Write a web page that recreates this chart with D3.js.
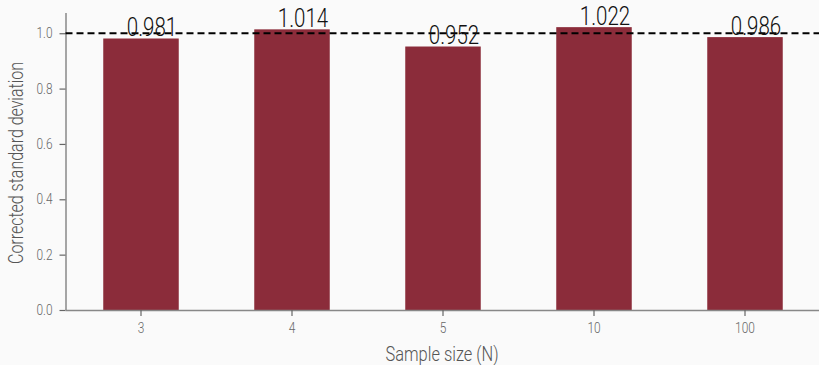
<!DOCTYPE html>
<html>
<head>
<meta charset="utf-8">
<script src="https://cdn.jsdelivr.net/npm/d3@7"></script>
<style>
  body { margin: 0; background: #fafafa; }
  svg { display: block; font-family: Roboto, sans-serif; font-weight: 300; }
</style>
</head>
<body>
<div id="chart-area"></div>
<script>
// chart data
let sampleSizes = ["3", "4", "5", "10", "100"];
let corrStd = [0.981, 1.014, 0.952, 1.022, 0.986];
let yTicks = [0.0, 0.2, 0.4, 0.6, 0.8, 1.0];

let width = 819,
    height = 365;
let margin = {top: 13, right: -1.5, left: 65.5, bottom: 55};
let w = width - margin.left - margin.right,
    h = height - margin.top - margin.bottom;

// squeeze text horizontally to mimic a condensed face
function condense(sel, k) {
    sel.each(function() {
        let len = this.getComputedTextLength();
        d3.select(this)
            .attr("textLength", len * k)
            .attr("lengthAdjust", "spacingAndGlyphs");
    });
}

function fitTo(sel, target) {
    sel.attr("textLength", target)
        .attr("lengthAdjust", "spacingAndGlyphs");
}

let svg = d3.select("#chart-area")
    .append("svg")
    .attr("width", width)
    .attr("height", height)
    .style("background", "#fafafa");

let g = svg.append("g")
    .attr("transform", "translate(" + margin.left + "," + margin.top + ")");

let x = d3.scaleBand()
    .domain(sampleSizes)
    .range([0, w])
    .paddingInner(0.5)
    .paddingOuter(0.25);

let y = d3.scaleLinear()
    .domain([0, 1.0731])
    .range([h, 0]);

// bars
g.selectAll("rect.bar")
    .data(corrStd)
    .enter()
    .append("rect")
    .attr("class", "bar")
    .attr("x", function(d, i) { return x(sampleSizes[i]); })
    .attr("y", function(d) { return y(d); })
    .attr("width", x.bandwidth())
    .attr("height", function(d) { return h - y(d); })
    .attr("fill", "#8b2c3a");

// axes
let yAxis = d3.axisLeft(y)
    .tickValues(yTicks)
    .tickFormat(d3.format(".1f"))
    .tickSize(6)
    .tickPadding(7);

let xAxis = d3.axisBottom(x)
    .tickSize(6)
    .tickPadding(7);

let gy = g.append("g").attr("class", "y-axis").call(yAxis);
let gx = g.append("g").attr("class", "x-axis")
    .attr("transform", "translate(0," + h + ")")
    .call(xAxis);

[gx, gy].forEach(function(a) {
    a.select(".domain").attr("stroke", "#888").attr("stroke-width", 1.5);
    a.selectAll(".tick line").attr("stroke", "#666").attr("stroke-width", 1.2);
    a.selectAll(".tick text")
        .attr("fill", "#666")
        .style("font-size", "14.5px")
        .style("font-family", "Roboto, sans-serif")
        .style("font-weight", 300);
    condense(a.selectAll(".tick text"), 0.82);
});
gx.select(".domain").attr("d", "M0,0.5H" + w);
gy.select(".domain").attr("d", "M0.5," + h + "V0");

// reference line at 1.0
g.append("line")
    .attr("x1", 0)
    .attr("x2", w)
    .attr("y1", y(1))
    .attr("y2", y(1))
    .attr("stroke", "#000")
    .attr("stroke-width", 2)
    .attr("stroke-dasharray", "7,4");

// value labels
let vals = g.selectAll("text.val")
    .data(corrStd)
    .enter()
    .append("text")
    .attr("class", "val")
    .attr("x", function(d, i) { return x(sampleSizes[i]) + x.bandwidth() / 2 + 11; })
    .attr("y", function(d) { return y(d) - 2.5; })
    .attr("text-anchor", "middle")
    .style("font-size", "25px")
    .attr("fill", "#111")
    .text(function(d) { return d3.format(".3f")(d); });
condense(vals, 0.82);

// axis titles
let xt = svg.append("text")
    .attr("x", 442)
    .attr("y", 361)
    .attr("text-anchor", "middle")
    .attr("fill", "#555")
    .style("font-size", "20px")
    .text("Sample size (N)");
fitTo(xt, 113);

let yt = svg.append("text")
    .attr("transform", "translate(23,163) rotate(-90)")
    .attr("text-anchor", "middle")
    .attr("fill", "#555")
    .style("font-size", "20px")
    .text("Corrected standard deviation");
fitTo(yt, 202);
</script>
</body>
</html>
